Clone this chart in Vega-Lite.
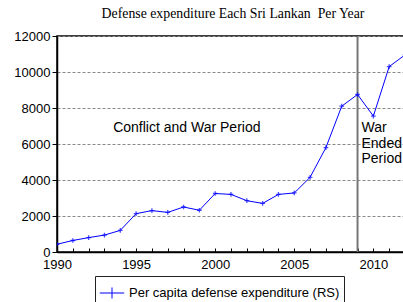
{
  "$schema": "https://vega.github.io/schema/vega-lite/v6.json",
  "width": 348,
  "height": 216,
  "autosize": {"type": "none"},
  "padding": {"left": 57, "top": 36, "right": 0, "bottom": 50},
  "background": "white",
  "title": {
    "text": "Defense expenditure Each Sri Lankan \u00a0Per Year",
    "font": "Liberation Serif",
    "fontSize": 13.8,
    "fontWeight": "normal",
    "color": "black",
    "offset": 9,
    "dx": 2
  },
  "config": {
    "view": {"stroke": "black", "strokeWidth": 1.5},
    "axis": {
      "labelFont": "Liberation Sans",
      "labelFontSize": 13,
      "labelColor": "black",
      "domainColor": "black",
      "tickColor": "black",
      "labelOverlap": false
    }
  },
  "datasets": {
    "series": [
      {"year": 1990, "value": 430},
      {"year": 1991, "value": 640},
      {"year": 1992, "value": 800},
      {"year": 1993, "value": 940},
      {"year": 1994, "value": 1200},
      {"year": 1995, "value": 2130},
      {"year": 1996, "value": 2300},
      {"year": 1997, "value": 2200},
      {"year": 1998, "value": 2500},
      {"year": 1999, "value": 2320},
      {"year": 2000, "value": 3250},
      {"year": 2001, "value": 3200},
      {"year": 2002, "value": 2850},
      {"year": 2003, "value": 2700},
      {"year": 2004, "value": 3200},
      {"year": 2005, "value": 3280},
      {"year": 2006, "value": 4150},
      {"year": 2007, "value": 5800},
      {"year": 2008, "value": 8100},
      {"year": 2009, "value": 8750},
      {"year": 2010, "value": 7550},
      {"year": 2011, "value": 10300},
      {"year": 2012, "value": 10950}
    ]
  },
  "layer": [
    {
      "data": {"values": [{"year": 2009, "y0": 0, "y1": 12000}]},
      "mark": {"type": "rule", "color": "#777777", "strokeWidth": 2},
      "encoding": {
        "x": {
          "field": "year",
          "type": "quantitative",
          "scale": {"domain": [1990, 2012], "nice": false, "zero": false},
          "axis": {
            "title": null,
            "grid": false,
            "values": [1990,1991,1992,1993,1994,1995,1996,1997,1998,1999,2000,2001,2002,2003,2004,2005,2006,2007,2008,2009,2010,2011,2012],
            "tickCount": 100,
            "labelExpr": "datum.value % 5 == 0 ? datum.value : ''",
            "tickSize": -4,
            "labelPadding": 10,
            "domainWidth": 1.5,
            "labelFlush": false,
            "labelBound": false,
            "labelOverlap": false
          }
        },
        "y": {
          "field": "y0",
          "type": "quantitative",
          "scale": {"domain": [0, 12000], "nice": false},
          "axis": {
            "title": null,
            "values": [0, 2000, 4000, 6000, 8000, 10000, 12000],
            "tickCount": 100,
            "format": "d",
            "tickSize": 5,
            "labelPadding": 2,
            "domainWidth": 1.5,
            "grid": true,
            "gridColor": "#888888",
            "gridDash": [3, 2],
            "gridWidth": 1,
            "labelFlush": false,
            "labelOverlap": false
          }
        },
        "y2": {"field": "y1"}
      }
    },
    {
      "data": {"name": "series"},
      "transform": [{"calculate": "'Per capita defense expenditure (RS)'", "as": "series"}],
      "mark": {"type": "line", "strokeWidth": 1, "clip": true},
      "encoding": {
        "x": {"field": "year", "type": "quantitative"},
        "y": {"field": "value", "type": "quantitative"},
        "color": {
          "field": "series",
          "type": "nominal",
          "scale": {"range": ["#0000ff"]},
          "legend": {
            "title": null,
            "orient": "none",
            "legendX": 38,
            "legendY": 240,
            "direction": "horizontal",
            "strokeColor": "#222222",
            "padding": 4,
            "symbolType": "M-1,0H1M0,-0.45V0.45",
            "symbolSize": 600,
            "symbolStrokeWidth": 1,
            "symbolFillColor": "transparent",
            "labelFont": "Liberation Sans",
            "labelFontSize": 13,
            "labelColor": "black",
            "labelLimit": 400
          }
        }
      }
    },
    {
      "data": {"name": "series"},
      "mark": {"type": "point", "shape": "M-1,0H1M0,-1V1", "filled": false, "size": 22, "strokeWidth": 1.3, "color": "#0000ff", "clip": true},
      "encoding": {
        "x": {"field": "year", "type": "quantitative"},
        "y": {"field": "value", "type": "quantitative"}
      }
    },
    {
      "data": {"values": [{"year": 1993.55, "value": 6880, "label": "Conflict and War Period"}]},
      "mark": {"type": "text", "align": "left", "baseline": "middle", "font": "Liberation Sans", "fontSize": 14, "color": "black"},
      "encoding": {
        "x": {"field": "year", "type": "quantitative"},
        "y": {"field": "value", "type": "quantitative"},
        "text": {"field": "label"}
      }
    },
    {
      "data": {"values": [{"year": 2009.25, "value": 6880, "label": ["War", "Ended", "Period"]}]},
      "mark": {"type": "text", "align": "left", "baseline": "middle", "font": "Liberation Sans", "fontSize": 14, "lineHeight": 15.5, "color": "black", "clip": true},
      "encoding": {
        "x": {"field": "year", "type": "quantitative"},
        "y": {"field": "value", "type": "quantitative"},
        "text": {"field": "label"}
      }
    }
  ]
}
